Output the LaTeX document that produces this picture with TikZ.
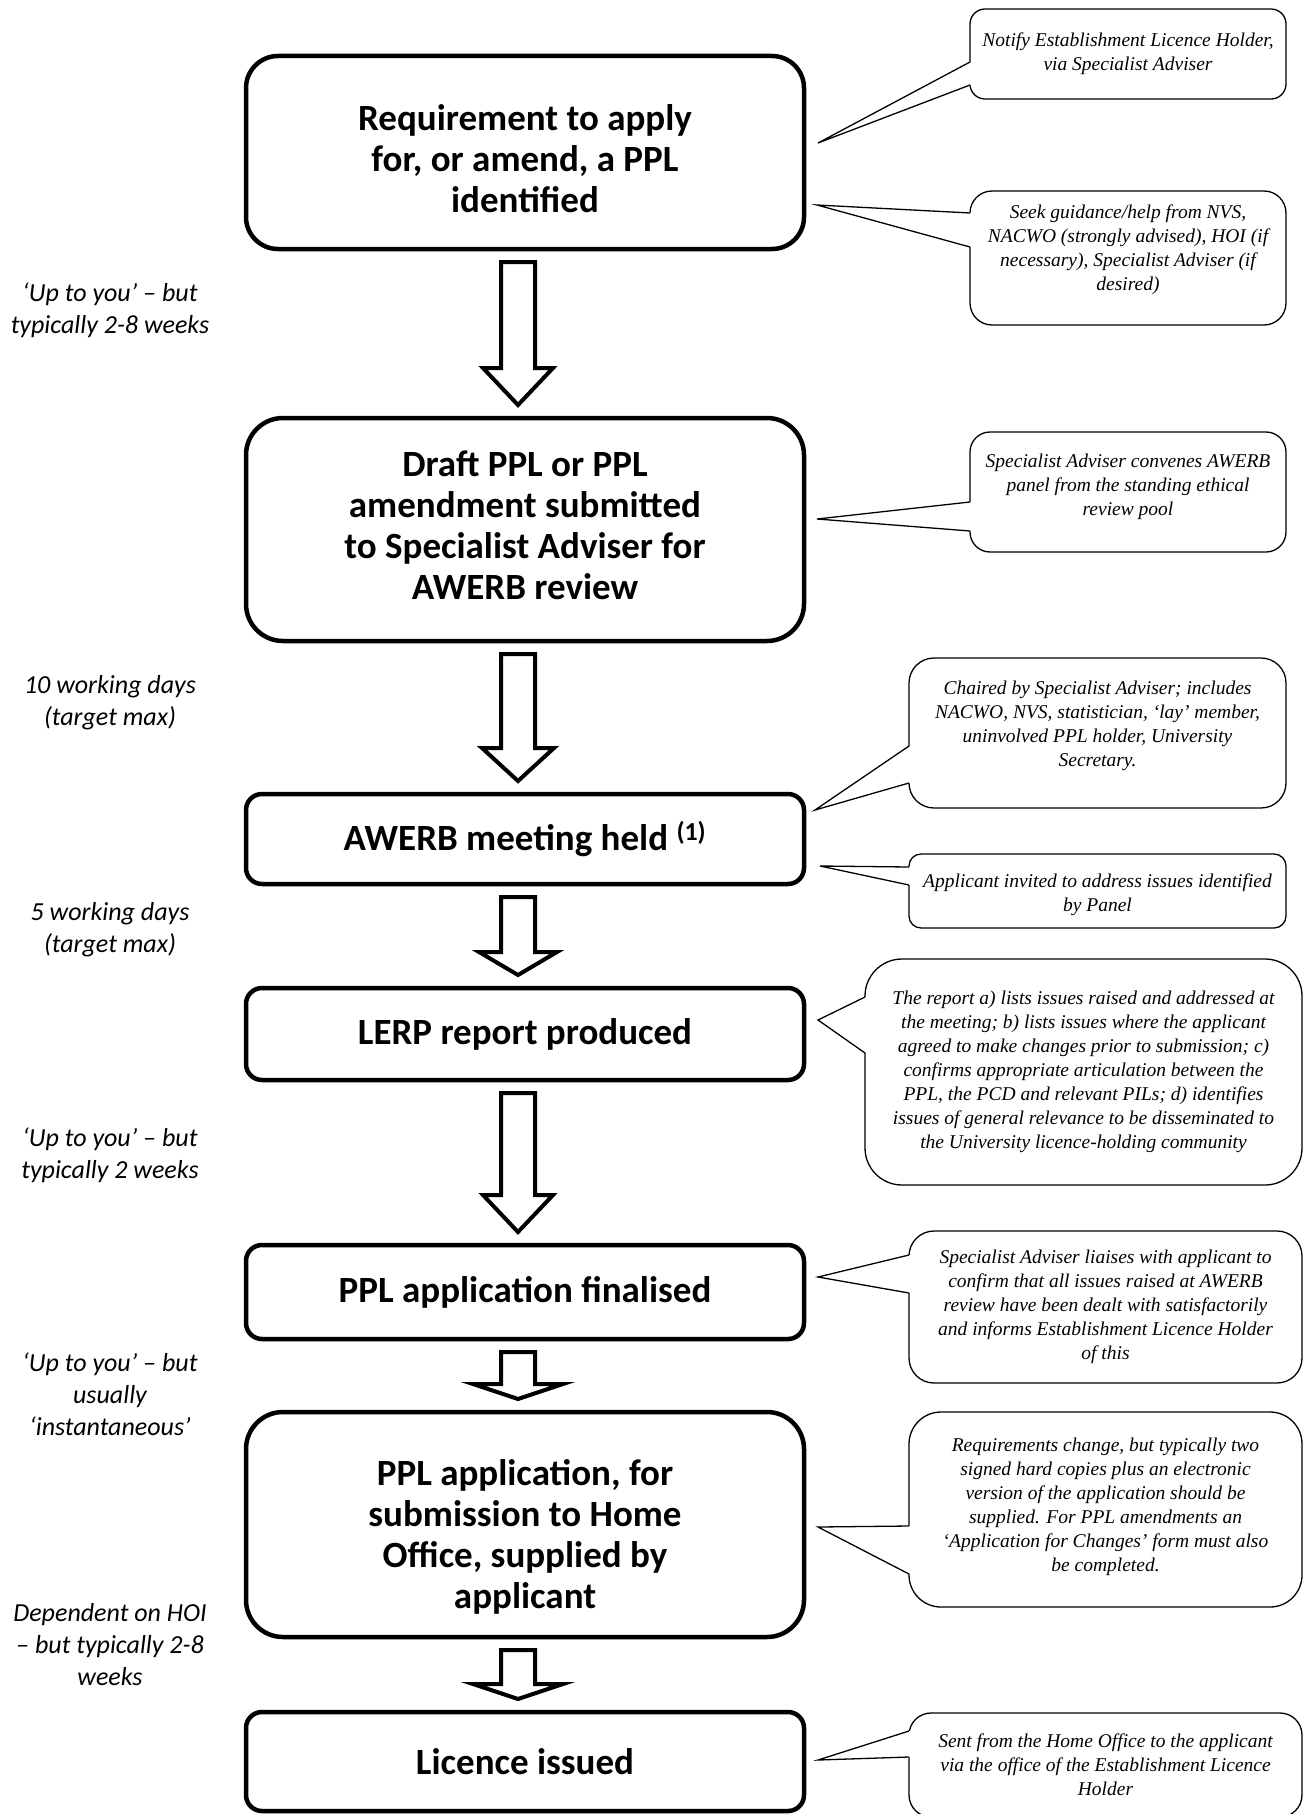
\documentclass[tikz,border=0pt]{standalone}
\usepackage{fontspec}
\setmainfont{Carlito}
\newfontfamily\notefont{Liberation Serif}
\usetikzlibrary{calc}
\definecolor{PplInk}{RGB}{0,0,0}
\tikzset{
  ppl/box/.style={
    draw=PplInk,
    line width=4.5pt,
    fill=white,
    align=center,
    text=PplInk,
    minimum width=558pt,
    inner sep=0pt,
    outer sep=0pt,
    font=\fontsize{37}{41}\selectfont\bfseries
  },
  ppl/note/.style={
    draw=PplInk,
    line width=1.3pt,
    fill=white,
    align=center,
    text=PplInk,
    inner sep=0pt,
    outer sep=0pt,
    font=\notefont\itshape\fontsize{19.5}{24}\selectfont
  },
  ppl/time/.style={align=center, text=PplInk, font=\itshape\fontsize{26}{32}\selectfont},
  ppl/arrow/.style={draw=PplInk, line width=4pt, fill=white, line join=miter},
  ppl/pointer/.style={draw=PplInk, line width=1.3pt}
}
% hollow block arrow between two boxes: from, to, head length, head half width
\newcommand{\pplarrow}[4]{%
  \draw[ppl/arrow] let \p1=(#1.south), \p2=(#2.north) in
    (\x1-24pt,\y1-13pt) -- (\x1+10pt,\y1-13pt) -- (\x1+10pt,\y2+13pt+#3)
    -- (\x1-7pt+#4,\y2+13pt+#3) -- (\x1-7pt,\y2+13pt)
    -- (\x1-7pt-#4,\y2+13pt+#3) -- (\x1-24pt,\y2+13pt+#3) -- cycle;
}
% wedge of a callout: callout, base top, base bottom, tip
\newcommand{\pplpointer}[4]{%
  \fill[white] ($(#1.north west)+(1.2,#2)$) -- (#4) -- ($(#1.north west)+(1.2,#3)$) -- cycle;
  \draw[ppl/pointer] ($(#1.north west)+(0,#2)$) -- (#4) -- ($(#1.north west)+(0,#3)$);
}
\begin{document}
\begin{tikzpicture}[x=1pt,y=-1pt]
  \useasboundingbox (0,0) rectangle (1303,1814);
  % main steps (a trailing \\[..] nudges the text up or down)
  \node[ppl/box,minimum height=193pt,rounded corners=32pt] (b1) at (525,152.5) {Requirement to apply\\for, or amend, a PPL\\identified\\[-54pt]};
  \node[ppl/box,minimum height=223pt,rounded corners=37pt] (b2) at (525,529.5) {Draft PPL or PPL\\amendment submitted\\to Specialist Adviser for\\AWERB review\\[-32pt]};
  \node[ppl/box,minimum height=90pt,rounded corners=16pt] (b3) at (525,839) {AWERB meeting held \textsuperscript{(1)}};
  \node[ppl/box,minimum height=92pt,rounded corners=16pt] (b4) at (525,1034) {LERP report produced};
  \node[ppl/box,minimum height=94pt,rounded corners=16pt] (b5) at (525,1292) {PPL application finalised};
  \node[ppl/box,minimum height=225pt,rounded corners=37pt] (b6) at (525,1524.5) {PPL application, for\\submission to Home\\Office, supplied by\\applicant\\[-60pt]};
  \node[ppl/box,minimum height=99pt,rounded corners=16pt] (b7) at (525,1761.5) {Licence issued};
  \pplarrow{b1}{b2}{37pt}{35pt}
  \pplarrow{b2}{b3}{33pt}{36pt}
  \pplarrow{b3}{b4}{23pt}{39pt}
  \pplarrow{b4}{b5}{37pt}{35pt}
  \pplarrow{b5}{b6}{15pt}{45pt}
  \pplarrow{b6}{b7}{15pt}{45pt}
  % timings
  \node[ppl/time] (l1) at (110,310.5) {‘Up to you’ – but\\typically 2-8 weeks};
  \node[ppl/time] (l2) at (110,702.5) {10 working days\\(target max)};
  \node[ppl/time] (l3) at (110,929.5) {5 working days\\(target max)};
  \node[ppl/time] (l4) at (110,1155.5) {‘Up to you’ – but\\typically 2 weeks};
  \node[ppl/time] (l5) at (110,1394) {‘Up to you’ – but\\usually\\‘instantaneous’};
  \node[ppl/time] (l6) at (110,1645) {Dependent on HOI\\– but typically 2-8\\weeks};
  % notes
  \node[ppl/note,minimum width=316pt,minimum height=90pt,rounded corners=15pt] (n1) at (1128,54) {Notify Establishment Licence Holder,\\via Specialist Adviser};
  \node[ppl/note,minimum width=316pt,minimum height=134pt,rounded corners=22pt] (n2) at (1128,258) {Seek guidance/help from NVS,\\NACWO (strongly advised), HOI (if\\necessary), Specialist Adviser (if\\desired)\\[-4pt]};
  \node[ppl/note,minimum width=316pt,minimum height=120pt,rounded corners=20pt] (n3) at (1128,492) {Specialist Adviser convenes AWERB\\panel from the standing ethical\\review pool\\[-10pt]};
  \node[ppl/note,minimum width=377pt,minimum height=150pt,rounded corners=25pt] (n4) at (1097.5,733) {Chaired by Specialist Adviser; includes\\NACWO, NVS, statistician, ‘lay’ member,\\uninvolved PPL holder, University\\Secretary.\\[-6pt]};
  \node[ppl/note,minimum width=377pt,minimum height=74pt,rounded corners=12pt] (n5) at (1097.5,891) {Applicant invited to address issues identified\\by Panel\\[-28pt]};
  \node[ppl/note,minimum width=437pt,minimum height=226pt,rounded corners=37pt] (n6) at (1083.5,1072) {The report a) lists issues raised and addressed at\\the meeting; b) lists issues where the applicant\\agreed to make changes prior to submission; c)\\confirms appropriate articulation between the\\PPL, the PCD and relevant PILs; d) identifies\\issues of general relevance to be disseminated to\\the University licence-holding community};
  \node[ppl/note,minimum width=393pt,minimum height=152pt,rounded corners=25pt] (n7) at (1105.5,1307) {Specialist Adviser liaises with applicant to\\confirm that all issues raised at AWERB\\review have been dealt with satisfactorily\\and informs Establishment Licence Holder\\of this};
  \node[ppl/note,minimum width=393pt,minimum height=195pt,rounded corners=32pt] (n8) at (1105.5,1509.5) {Requirements change, but typically two\\signed hard copies plus an electronic\\version of the application should be\\supplied. For PPL amendments an\\‘Application for Changes’ form must also\\be completed.\\[-14pt]};
  \node[ppl/note,minimum width=393pt,minimum height=104pt,rounded corners=22pt] (n9) at (1105.5,1765) {Sent from the Home Office to the applicant\\via the office of the Establishment Licence\\Holder};
  \coordinate (t1) at ($(b1.north east)+(14,87)$);
  \coordinate (t2) at ($(b1.north east)+(13,149)$);
  \coordinate (t3) at ($(b2.north east)+(13,101)$);
  \coordinate (t4) at ($(b3.north east)+(11,16)$);
  \coordinate (t5) at ($(b3.north east)+(16,72)$);
  \coordinate (t6) at ($(b4.north east)+(14,32)$);
  \coordinate (t7) at ($(b5.north east)+(14,32)$);
  \coordinate (t8) at ($(b6.north east)+(14,115)$);
  \coordinate (t9) at ($(b7.north east)+(14,48)$);
  \pplpointer{n1}{53}{76}{t1}
  \pplpointer{n2}{22}{56}{t2}
  \pplpointer{n3}{70}{99}{t3}
  \pplpointer{n4}{88}{125}{t4}
  \pplpointer{n5}{13}{31}{t5}
  \pplpointer{n6}{38}{94}{t6}
  \pplpointer{n7}{24}{62}{t7}
  \pplpointer{n8}{114}{162}{t8}
  \pplpointer{n9}{18}{44}{t9}
\end{tikzpicture}
\end{document}
